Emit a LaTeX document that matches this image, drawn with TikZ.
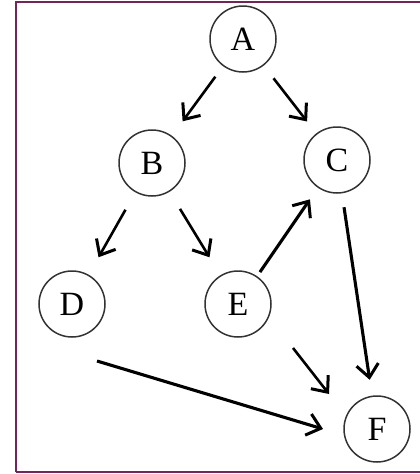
\documentclass[tikz,border=0pt]{standalone}
\usepackage{fontspec}
\setmainfont{Liberation Serif}
\usetikzlibrary{arrows.meta,calc}
\definecolor{framecol}{RGB}{112,38,88}
\begin{document}
\begin{tikzpicture}[x=1pt,y=-1pt,
  vertex/.style={circle,draw=black!80,line width=1.5pt,minimum size=66pt,inner sep=0pt,
    font=\fontsize{34}{34}\selectfont},
  arr/.style={draw=black,line width=2.6pt,
    -{Straight Barb[length=13pt,width=22pt,line width=3pt]}},
  thick arr/.style={arr,line width=3.1pt}]
  \clip (0,0) rectangle (420,474);
  \fill[white] (0,0) rectangle (420,474);
  % frame
  \draw[framecol,line width=2.4pt] (16,472) -- (16,2) -- (440,2);
  \draw[framecol,line width=2.4pt] (16,472) -- (440,472);

  % vertices
  \node[vertex] (a) at (243,39)  {A};
  \node[vertex] (b) at (152,163) {B};
  \node[vertex] (c) at (337,160) {C};
  \node[vertex] (d) at (72,304)  {D};
  \node[vertex] (e) at (238,304) {E};
  \node[vertex] (f) at (377,429) {F};

  % edges
  \draw[arr,shorten <=13pt,shorten >=18pt] (a) -- (b);
  \draw[arr,shorten <=16pt,shorten >=15pt] (a) -- (c);
  \draw[arr,shorten <=20pt,shorten >=20pt] (b) -- (d);
  \draw[arr,shorten <=20pt,shorten >=21pt] (b) -- (e);
  \draw[thick arr,shorten <=5pt,shorten >=14pt] (e) -- (c);
  \draw[thick arr,shorten <=14pt,shorten >=16pt] (c) -- (f);
  \draw[thick arr] ($(d)+(25,57)$) -- ($(f)+(-54,0)$);
  \draw[arr] ($(e)+(55,44)$) -- ($(f)+(-48,-35)$);
\end{tikzpicture}
\end{document}
